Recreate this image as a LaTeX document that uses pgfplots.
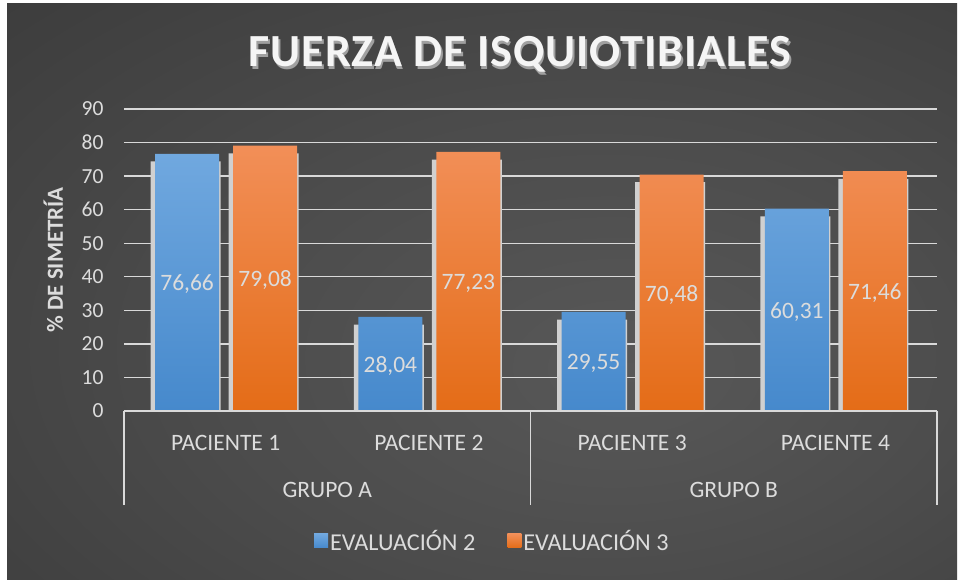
\documentclass[border=0pt]{standalone}
\usepackage{pgfplots}
\pgfplotsset{compat=1.18}
\usepackage{fontspec}
\setmainfont{Carlito}
\newfontfamily\titlefont[LetterSpace=2]{Carlito}
\definecolor{bgA}{HTML}{585858}
\definecolor{bgB}{HTML}{4C4C4C}
\definecolor{bgC}{HTML}{333333}
\definecolor{bgD}{HTML}{262626}
\definecolor{gridc}{HTML}{D9D9D9}
\definecolor{labc}{HTML}{DCDCDC}
\definecolor{shadc}{HTML}{D0D0D0}
\definecolor{blueT}{HTML}{70A8DF}
\definecolor{blueB}{HTML}{4689CC}
\definecolor{oranT}{HTML}{F28F58}
\definecolor{oranB}{HTML}{E46C17}
\definecolor{titsh}{HTML}{A0A0A0}
\pgfdeclareradialshading{bgshade}{\pgfpoint{8bp}{-7bp}}{color(0bp)=(bgA); color(20bp)=(bgB); color(55bp)=(bgC); color(85bp)=(bgD)}
\begin{document}
\begin{tikzpicture}[x=1pt,y=1pt]
\fill[white] (0,0) rectangle (960,580);
\shade[shading=bgshade] (7,0) rectangle (957,576);
% title with shadow
\node[font=\titlefont\bfseries\fontsize{46}{54}\selectfont, text=titsh, anchor=base] at (521.5,510.5) {FUERZA DE ISQUIOTIBIALES};
\node[font=\titlefont\bfseries\fontsize{46}{54}\selectfont, text=white!96!black, anchor=base] at (520,513) {FUERZA DE ISQUIOTIBIALES};
\begin{axis}[
  at={(124pt,169pt)}, anchor=south west,
  scale only axis, width=813pt, height=302pt,
  xmin=-0.5, xmax=3.5, ymin=0, ymax=90,
  ytick={0,10,...,90},
  xtick={0,1,2,3},
  xticklabels={PACIENTE 1, PACIENTE 2, PACIENTE 3, PACIENTE 4},
  ymajorgrids, grid style={line width=1.3pt, color=gridc},
  axis line style={draw=none},
  major tick length=0pt,
  tick style={draw=none},
  clip=false,
  /pgf/number format/assume math mode=true,
  yticklabel style={font=\fontsize{21.5}{26}\selectfont, text=labc, xshift=-17pt},
  xticklabel style={font=\fontsize{23.5}{28}\selectfont, text=labc, anchor=base, yshift=-40pt},
  every axis y label/.style={at={([xshift=-61pt]rel axis cs:0,0.5)}, rotate=90, anchor=base, font=\bfseries\fontsize{23}{28}\selectfont, text=labc},
  ylabel={\% DE SIMETRÍA},
  legend style={at={(0.453,-0.43)}, anchor=center, draw=none, fill=none,
    font=\fontsize{24.2}{29}\selectfont, text=labc, legend columns=2,
    /tikz/every even column/.append style={column sep=30pt},
    nodes={inner sep=2pt}},
  legend image code/.code={\fill[#1] (0pt,-7pt) rectangle (14pt,7pt);},
]
% shadows behind bars
\addplot[ybar, bar width=70pt, bar shift=-40pt, fill=shadc, draw=none, forget plot]
  coordinates {(0,74.36) (1,25.74) (2,27.25) (3,58.01)};
\addplot[ybar, bar width=70pt, bar shift=38pt, fill=shadc, draw=none, forget plot]
  coordinates {(0,76.78) (1,74.93) (2,68.18) (3,69.16)};
% main bars
\addplot[ybar, bar width=64pt, bar shift=-38.5pt, draw=none, top color=blueT, bottom color=blueB,
  visualization depends on=y \as \rawy,
  nodes near coords={\pgfmathprintnumber[fixed, fixed zerofill, precision=2, use comma]{\pgfplotspointmeta}},
  every node near coord/.append style={anchor=center, font=\fontsize{23.5}{28}\selectfont, text=labc, shift={(axis direction cs:0,-\rawy/2)}, xshift=-38.5pt, yshift=-2pt}]
  coordinates {(0,76.66) (1,28.04) (2,29.55) (3,60.31)};
\addlegendentry{EVALUACIÓN 2}
\addplot[ybar, bar width=64pt, bar shift=39.5pt, draw=none, top color=oranT, bottom color=oranB,
  visualization depends on=y \as \rawy,
  nodes near coords={\pgfmathprintnumber[fixed, fixed zerofill, precision=2, use comma]{\pgfplotspointmeta}},
  every node near coord/.append style={anchor=center, font=\fontsize{23.5}{28}\selectfont, text=labc, shift={(axis direction cs:0,-\rawy/2)}, xshift=39.5pt, yshift=-2pt}]
  coordinates {(0,79.08) (1,77.23) (2,70.48) (3,71.46)};
\addlegendentry{EVALUACIÓN 3}
% category axis
\draw[gridc, line width=1.6pt] (axis cs:-0.5,0) -- (axis cs:3.5,0);
\draw[gridc, line width=1.6pt] (axis cs:-0.5,0) -- ([yshift=-94pt]axis cs:-0.5,0);
\draw[gridc, line width=1.6pt] (axis cs:1.5,0) -- ([yshift=-94pt]axis cs:1.5,0);
\draw[gridc, line width=1.6pt] (axis cs:3.5,0) -- ([yshift=-94pt]axis cs:3.5,0);
\node[font=\fontsize{23.5}{28}\selectfont, text=labc, anchor=base] at ([yshift=-86pt]axis cs:0.5,0) {GRUPO A};
\node[font=\fontsize{23.5}{28}\selectfont, text=labc, anchor=base] at ([yshift=-86pt]axis cs:2.5,0) {GRUPO B};
\end{axis}
\pgfresetboundingbox
\path[use as bounding box] (0,0) rectangle (960,580);
\end{tikzpicture}
\end{document}
